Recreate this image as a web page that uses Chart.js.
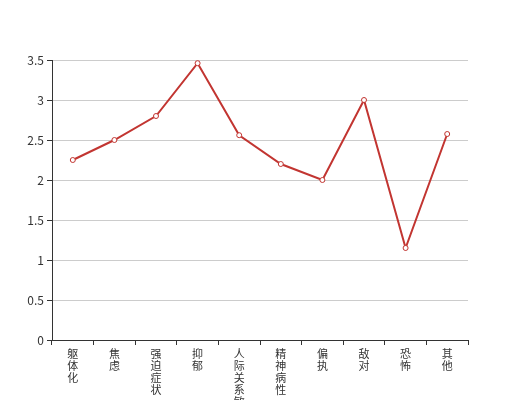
<!DOCTYPE html>
<html>
<head>
<meta charset="utf-8">
<script src="https://cdn.jsdelivr.net/npm/chart.js@4"></script>
<style>
html,body{margin:0;padding:0;background:#fff;overflow:hidden;}
canvas{display:block;}
</style>
</head>
<body>
<canvas id="c" width="520" height="400"></canvas>
<script>
const categories = ['躯体化','焦虑','强迫症状','抑郁','人际关系敏感','精神病性','偏执','敌对','恐怖','其他'];
const scores = [2.25, 2.5, 2.8, 3.46, 2.56, 2.2, 2.0, 3.0, 1.15, 2.575];
const yTicks = [0, 0.5, 1, 1.5, 2, 2.5, 3, 3.5];
const yTickLabels = ['0', '0.5', '1', '1.5', '2', '2.5', '3', '3.5'];

const FONT = '"Noto Sans CJK SC", "Noto Sans", sans-serif';
Chart.defaults.font.family = FONT;

new Chart(document.getElementById('c'), {
  type: 'line',
  data: {
    labels: categories.map(s => Array.from(s)),
    datasets: [{
      data: scores,
      borderColor: '#c23531',
      borderWidth: 2,
      tension: 0,
      pointRadius: 2.5,
      pointBorderWidth: 1,
      pointBackgroundColor: '#fff',
      pointBorderColor: '#c23531',
      fill: false
    }]
  },
  options: {
    responsive: false,
    animation: false,
    layout: { padding: { top: 60, right: 52, left: 0, bottom: 0 } },
    plugins: { legend: { display: false }, tooltip: { enabled: false } },
    scales: {
      x: {
        offset: true,
        grid: { offset: true, drawOnChartArea: false, drawTicks: true, tickLength: 5, tickColor: '#333' },
        border: { color: '#333', width: 1 },
        ticks: { autoSkip: false, maxRotation: 0, minRotation: 0, padding: 3, color: '#333', font: { size: 11, lineHeight: 12 / 11 } },
        afterFit: s => { s.height = 60; }
      },
      y: {
        min: 0, max: 3.5,
        afterBuildTicks: s => { s.ticks = yTicks.map(v => ({ value: v })); },
        grid: { color: '#ccc', tickLength: 5, tickColor: '#333' },
        border: { color: '#333', width: 1 },
        ticks: { padding: 3, color: '#333', font: { size: 12 }, callback: (v, i) => yTickLabels[i] },
        afterFit: s => { s.width = 52; }
      }
    }
  }
});
</script>
</body>
</html>
